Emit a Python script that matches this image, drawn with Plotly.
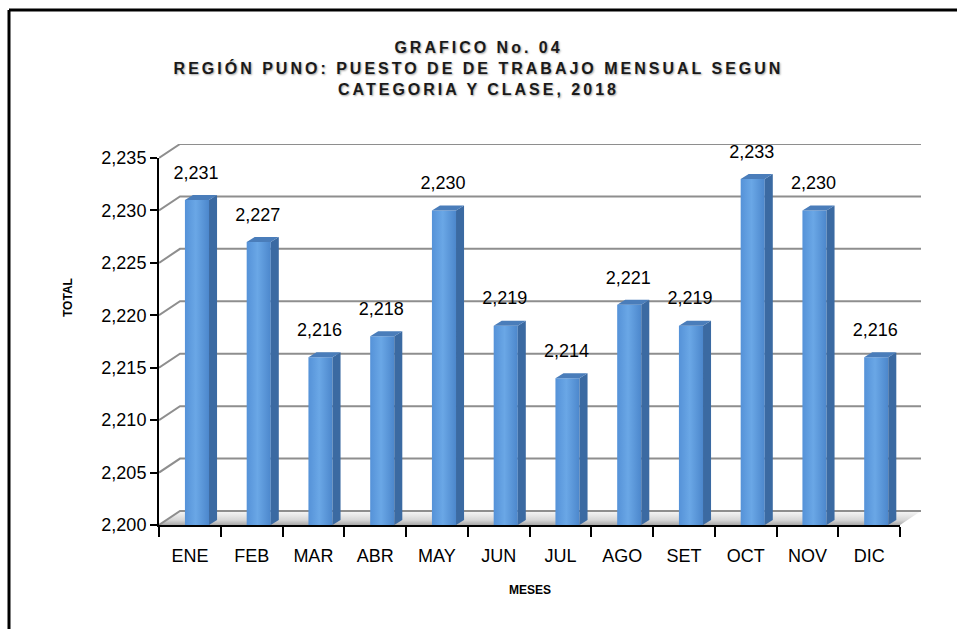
import plotly.graph_objects as go

# ---------------- data ----------------
months = ["ENE", "FEB", "MAR", "ABR", "MAY", "JUN", "JUL", "AGO", "SET", "OCT", "NOV", "DIC"]
totals = [2231, 2227, 2216, 2218, 2230, 2219, 2214, 2221, 2219, 2233, 2230, 2216]
y_min, y_max, y_step = 2200, 2235, 5
title_lines = ["GRAFICO No. 04",
               "REGIÓN PUNO: PUESTO DE DE TRABAJO MENSUAL SEGUN",
               "CATEGORIA Y CLASE, 2018"]
y_title = "TOTAL"
x_title = "MESES"

# ---------------- layout geometry (pixels) ----------------
W, H = 957, 629
FX0, FX1, FY_TOP, FY_BOT = 159, 900, 158, 525   # front plane of the 3D box
DXP, DYP = 21, 14                                # depth of the back wall
n = len(months)
ux = (FX1 - FX0) / n                 # px per category
uy = (FY_BOT - FY_TOP) / (y_max - y_min)   # px per unit
DX, DY = DXP / ux, DYP / uy
# bar geometry (in axis units)
F_L, F_R, S_R = -0.08, 0.31, 0.44
BDY = 5 / uy

def fx(p):
    return p / W

def fy(p):
    return 1 - p / H

fig = go.Figure()

# ---------------- back wall / floor (axes x, y) ----------------
fig.add_trace(go.Scatter(
    x=[-0.5, n - 0.5, n - 0.5 + DX, -0.5 + DX, -0.5],
    y=[y_min, y_min, y_min + DY, y_min + DY, y_min],
    fill="toself", mode="none",
    fillgradient=dict(type="vertical",
                      colorscale=[[0, "#a9a9a9"], [0.35, "#d6d6d6"], [1, "#f7f7f7"]]),
    xaxis="x", yaxis="y", hoverinfo="skip", showlegend=False))

gx, gy = [], []
for v in range(y_min, y_max + 1, y_step):
    gx += [-0.5, -0.5 + DX, n - 0.5 + DX, None]
    gy += [v, v + DY, v + DY, None]
fig.add_trace(go.Scatter(x=gx, y=gy, mode="lines",
                         line=dict(color="#8e8e8e", width=2),
                         xaxis="x", yaxis="y", hoverinfo="skip", showlegend=False))

# ---------------- bars (axes x2, y2) ----------------
sx, sy, tx, ty = [], [], [], []
for i, v in enumerate(totals):
    fig.add_trace(go.Scatter(
        x=[i + F_L, i + F_R, i + F_R, i + F_L, i + F_L],
        y=[y_min, y_min, v, v, y_min],
        fill="toself", mode="none",
        fillgradient=dict(type="horizontal",
                          colorscale=[[0, "#5592d8"], [0.45, "#6aa7e6"], [1, "#4c87cc"]]),
        xaxis="x2", yaxis="y2", hoverinfo="skip", showlegend=False))
    sx += [i + F_R, i + S_R, i + S_R, i + F_R, i + F_R, None]
    sy += [y_min, y_min + BDY, v + BDY, v, y_min, None]
    tx += [i + F_L, i + F_R, i + S_R, i + F_L + (S_R - F_R), i + F_L, None]
    ty += [v, v, v + BDY, v + BDY, v, None]

fig.add_trace(go.Scatter(x=sx, y=sy, fill="toself", mode="none", fillcolor="#3b6aa2",
                         xaxis="x2", yaxis="y2", hoverinfo="skip", showlegend=False))
fig.add_trace(go.Scatter(x=tx, y=ty, fill="toself", mode="none", fillcolor="#4a7dba",
                         xaxis="x2", yaxis="y2", hoverinfo="skip", showlegend=False))

# data labels
fig.add_trace(go.Scatter(
    x=[i + 0.1 for i in range(n)], y=[v + 1.6 for v in totals],
    text=[f"{v:,}" for v in totals], mode="text", textposition="top center",
    textfont=dict(family="Liberation Sans, Arial", size=18, color="#000000"),
    cliponaxis=False, xaxis="x2", yaxis="y2", hoverinfo="skip", showlegend=False))

# ---------------- axes ----------------
fig.update_layout(
    width=W, height=H, autosize=False,
    margin=dict(l=0, r=0, t=0, b=0, pad=0, autoexpand=False),
    paper_bgcolor="white", plot_bgcolor="rgba(0,0,0,0)",
    showlegend=False,
    xaxis=dict(domain=[fx(FX0), fx(FX1 + DXP)], range=[-0.5, n - 0.5 + DX],
               visible=False, fixedrange=True, automargin=False),
    yaxis=dict(domain=[fy(FY_BOT), fy(FY_TOP - DYP)], range=[y_min, y_max + DY],
               visible=False, fixedrange=True, automargin=False),
    xaxis2=dict(domain=[fx(FX0), fx(FX1)], range=[-0.5, n - 0.5], anchor="y2",
                tickmode="array", tickvals=list(range(n)), ticktext=months,
                ticks="", showline=True, linecolor="black", linewidth=2,
                showgrid=False, zeroline=False, ticklabelstandoff=13, automargin=False,
                tickfont=dict(family="Liberation Sans, Arial", size=18, color="black"),
                minor=dict(tickmode="array", tickvals=[i - 0.5 for i in range(n + 1)],
                           ticks="outside", ticklen=10, tickwidth=2, tickcolor="black"),
                fixedrange=True),
    yaxis2=dict(domain=[fy(FY_BOT), fy(FY_TOP)], range=[y_min, y_max], anchor="x2",
                tick0=y_min, dtick=y_step, tickformat=",", automargin=False,
                ticks="outside", ticklen=7, tickwidth=2, tickcolor="black",
                showline=True, linecolor="black", linewidth=2,
                showgrid=False, zeroline=False,
                tickfont=dict(family="Liberation Sans, Arial", size=18, color="black"),
                fixedrange=True),
)

title_font = "Liberation Sans, Arial"
fig.update_layout(title=dict(
    text="<br>".join(f"<span style='letter-spacing:3px'>{t}</span>" for t in title_lines),
    x=0.5, xref="container", xanchor="center",
    y=fy(53), yref="container", yanchor="top", automargin=False,
    font=dict(family=title_font, size=16, color="#1a1a1a", weight="bold",
              shadow="1px 1px 2px rgba(0,0,0,0.35)")))

fig.add_annotation(text=y_title, xref="paper", yref="paper", x=fx(68), y=fy(298),
                   xanchor="center", yanchor="middle",
                   textangle=-90, showarrow=False,
                   font=dict(family="Liberation Sans, Arial", size=12, color="black", weight="bold"))
fig.add_annotation(text=x_title, xref="paper", yref="paper", x=fx(530), y=fy(590),
                   xanchor="center", yanchor="middle", showarrow=False,
                   font=dict(family="Liberation Sans, Arial", size=12, color="black", weight="bold"))

# outer frame (left and top edges)
fig.add_shape(type="line", xref="paper", yref="paper", x0=fx(9), y0=fy(10), x1=1.0, y1=fy(10),
              line=dict(color="black", width=3))
fig.add_shape(type="line", xref="paper", yref="paper", x0=fx(9), y0=fy(10), x1=fx(9), y1=0.0,
              line=dict(color="black", width=3))

fig.write_html("out.html", config={"displayModeBar": False},
               post_script="document.body.style.margin='0';document.body.style.overflow='hidden';")
